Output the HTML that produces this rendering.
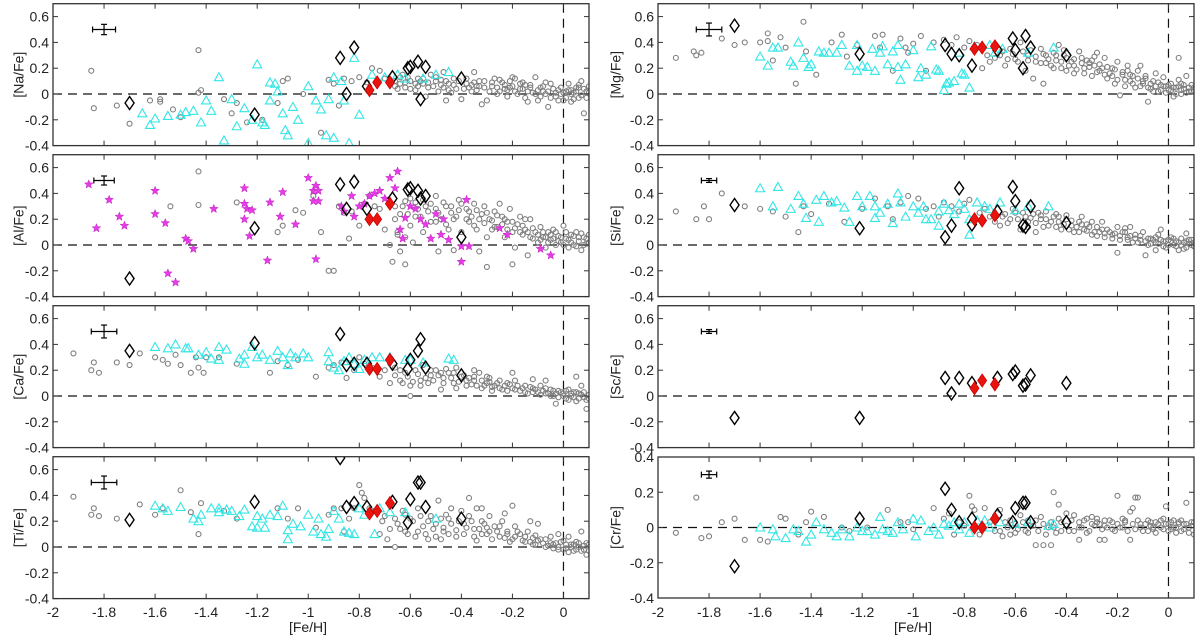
<!DOCTYPE html>
<html><head><meta charset="utf-8"><title>Abundance ratios vs [Fe/H]</title>
<style>
html,body{margin:0;padding:0;background:#fff;}
svg{display:block;font-family:"Liberation Sans",Arial,sans-serif;}
</style></head>
<body>
<svg id="chart" width="1200" height="637" viewBox="0 0 1200 637" xmlns="http://www.w3.org/2000/svg"></svg>
<script>
// ---------- shared data ----------
const xTicks = [-2,-1.8,-1.6,-1.4,-1.2,-1,-0.8,-0.6,-0.4,-0.2,0];
const xTickLabels = ["-2","-1.8","-1.6","-1.4","-1.2","-1","-0.8","-0.6","-0.4","-0.2","0"];
const yTicksStd = [-0.4,-0.2,0,0.2,0.4,0.6];
const yTickLabelsStd = ["-0.4","-0.2","0","0.2","0.4","0.6"];
const yTicksCr = [-0.4,-0.2,0,0.2,0.4];
const yTickLabelsCr = ["-0.4","-0.2","0","0.2","0.4"];
const panelNames = ["[Na/Fe]","[Mg/Fe]","[Al/Fe]","[Si/Fe]","[Ca/Fe]","[Sc/Fe]","[Ti/Fe]","[Cr/Fe]"];

// black diamond program stars [Fe/H]
const dFe = [-1.70,-1.21,-0.875,-0.85,-0.82,-0.77,-0.67,-0.61,-0.60,-0.57,-0.56,-0.54,-0.40];
const dNa = [-0.07,-0.16,0.28,0.00,0.36,0.06,0.13,0.20,0.21,0.25,-0.04,0.21,0.12];
const dMg = [0.53,0.31,0.38,0.31,0.30,0.22,0.34,0.43,0.34,0.20,0.45,0.36,0.30];
const dAl = [-0.26,0.13,0.47,0.28,0.49,0.28,0.36,0.43,0.44,0.42,0.36,0.38,0.06];
const dSi = [0.31,0.13,0.06,0.15,0.44,0.16,0.26,0.45,0.34,0.15,0.14,0.30,0.17];
const dCa = [0.35,0.41,0.48,0.24,0.25,0.25,0.25,0.21,0.28,0.35,0.44,0.22,0.16];
const dSc = [-0.17,-0.17,0.14,0.02,0.14,0.10,0.14,0.17,0.19,0.08,0.09,0.16,0.10];
const dTi = [0.21,0.35,0.69,0.31,0.34,0.31,0.35,0.19,0.37,0.50,0.50,0.31,0.22];
const dCr = [-0.22,0.05,0.22,0.10,0.03,0.05,0.07,0.03,0.11,0.14,0.14,0.03,0.03];

// red diamonds
const rFe = [-0.76,-0.73,-0.68];
const rNa = [0.03,0.09,0.09];
const rMg = [0.35,0.36,0.37];
const rAl = [0.20,0.20,0.32];
const rSi = [0.20,0.19,0.23];
const rCa = [0.21,0.21,0.28];
const rSc = [0.06,0.12,0.09];
const rTi = [0.26,0.28,0.34];
const rCr = [0.00,0.00,0.05];

// error bars [x half, y half]
const errNa=[0.045,0.04], errMg=[0.05,0.05], errAl=[0.04,0.035], errSi=[0.03,0.015],
      errCa=[0.05,0.05], errSc=[0.03,0.015], errTi=[0.05,0.05], errCr=[0.03,0.02];

// field stars (gray circles) [FeH, X/Fe]
const gNa = [[-1.85,0.18],[-1.84,-0.11],[-1.75,-0.09],[-1.7,-0.23],[-1.62,-0.05],[-1.58,-0.04],[-1.58,-0.06],[-1.53,-0.12],[-1.5,-0.18],[-1.43,0.34],[-1.42,0.03],[-1.43,0.01],[-1.33,-0.04],[-1.3,-0.15],[-1.28,-0.07],[-1.24,-0.22],[-1.12,-0.07],[-1.18,-0.2],[-1.1,0.1],[-1.08,0.12],[-1.02,0.0],[-0.95,-0.3],[-0.92,0.11],[-0.9,0.08],[-0.88,-0.09],[-0.86,0.12],[-0.83,0.1],[-0.8,0.13],[-0.77,0.09],[-0.75,0.2],[-0.72,0.18],[-0.7,0.12],[-0.66,0.1],[-0.64,0.08],[-0.62,0.05],[-0.63,0.15],[-0.6,0.1],[-0.58,0.03],[-0.57,0.12],[-0.55,0.08],[-0.53,0.05],[-0.52,0.15],[-0.5,0.1],[-0.49,0.02],[-0.47,0.17],[-0.45,0.08],[-0.43,0.12],[-0.42,0.04],[-0.4,-0.04],[-0.38,0.08],[-0.36,0.02],[-0.35,0.17],[-0.33,0.1],[-0.31,0.05],[-0.3,-0.05],[-0.28,0.06],[-0.27,0.12],[-0.25,0.02],[-0.24,0.09],[-0.22,-0.02],[-0.21,0.05],[-0.19,0.12],[-0.18,0.0],[-0.16,0.04],[-0.15,-0.03],[-0.13,0.07],[-0.12,0.01],[-0.1,-0.05],[-0.09,0.05],[-0.07,0.0],[-0.06,-0.1],[-0.05,0.08],[-0.03,-0.02],[-0.02,0.03],[0.0,-0.05],[0.01,0.02],[0.02,0.08],[0.03,-0.06],[0.04,0.01],[0.05,0.05],[0.06,-0.03],[0.07,0.1],[0.08,-0.15],[0.09,0.02],[0.1,0.06],[-0.11,0.13],[-0.2,0.13],[-0.32,-0.08],[-0.46,-0.05],[-0.54,-0.02],[-0.65,0.04],[-0.68,0.11],[-0.61,0.13],[-0.48,0.11],[-0.37,0.05],[-0.26,0.0],[-0.17,0.08],[-0.08,0.02],[-0.01,0.0],[0.03,0.03],[0.06,0.07],[-0.14,-0.06],[-0.23,0.04],[-0.34,0.06],[-0.44,0.01]];
const gNa2 = [[-0.66,0.06],[-0.64,0.13],[-0.62,0.09],[-0.6,0.04],[-0.58,0.08],[-0.57,0.06],[-0.55,0.12],[-0.53,0.09],[-0.51,0.06],[-0.5,0.13],[-0.48,0.07],[-0.46,0.1],[-0.45,0.03],[-0.43,0.07],[-0.41,0.1],[-0.39,0.04],[-0.38,0.12],[-0.36,0.07],[-0.34,0.03],[-0.33,0.06],[-0.31,0.1],[-0.29,0.02],[-0.28,0.09],[-0.26,0.05],[-0.25,0.11],[-0.23,0.07],[-0.22,0.03],[-0.2,0.06],[-0.19,0.02],[-0.17,0.04],[-0.16,0.09],[-0.14,0.02],[-0.13,0.05],[-0.11,0.0],[-0.1,0.03],[-0.09,-0.02],[-0.08,0.06],[-0.06,0.02],[-0.05,-0.03],[-0.04,0.04],[-0.03,0.01],[-0.02,-0.05],[-0.01,0.05],[0.0,0.01],[0.01,-0.03],[0.02,0.03],[0.03,0.0],[0.04,-0.04],[0.05,0.02],[0.06,0.05],[0.07,-0.01],[0.08,0.04],[0.09,-0.03],[0.1,0.01],[-0.15,0.07],[-0.07,0.09],[-0.21,0.1],[-0.35,0.09],[-0.47,0.05],[-0.56,0.1]];
const gMg = [[-1.93,0.28],[-1.86,0.33],[-1.85,0.3],[-1.83,0.32],[-1.75,0.43],[-1.7,0.38],[-1.66,0.4],[-1.6,0.4],[-1.57,0.47],[-1.57,0.41],[-1.55,0.26],[-1.52,0.44],[-1.5,0.36],[-1.46,0.08],[-1.43,0.56],[-1.42,0.33],[-1.38,0.15],[-1.32,0.4],[-1.28,0.46],[-1.26,0.29],[-1.22,0.38],[-1.15,0.45],[-1.13,0.36],[-1.12,0.46],[-1.08,0.18],[-1.05,0.43],[-1.03,0.36],[-1.02,0.32],[-1.0,0.39],[-0.97,0.45],[-0.95,0.18],[-0.92,0.4],[-0.88,0.42],[-0.85,0.38],[-0.83,0.44],[-0.8,0.36],[-0.78,0.41],[-0.75,0.38],[-0.73,0.2],[-0.71,0.3],[-0.7,0.25],[-0.68,0.28],[-0.66,0.3],[-0.64,0.22],[-0.62,0.35],[-0.6,0.27],[-0.58,0.4],[-0.56,0.18],[-0.55,0.3],[-0.53,0.12],[-0.52,0.25],[-0.5,0.35],[-0.49,0.08],[-0.48,0.3],[-0.46,0.22],[-0.44,0.26],[-0.43,0.38],[-0.41,0.3],[-0.4,0.18],[-0.38,0.25],[-0.37,0.16],[-0.35,0.33],[-0.33,0.2],[-0.32,0.26],[-0.3,0.14],[-0.29,0.22],[-0.27,0.18],[-0.25,0.28],[-0.24,0.12],[-0.22,0.2],[-0.21,0.08],[-0.19,-0.01],[-0.18,0.15],[-0.16,0.22],[-0.15,0.1],[-0.13,0.05],[-0.12,0.18],[-0.1,0.08],[-0.09,0.12],[-0.08,-0.06],[-0.07,0.04],[-0.06,0.1],[-0.04,0.02],[-0.03,0.07],[-0.02,0.13],[0.0,0.03],[0.01,0.08],[0.02,-0.02],[0.03,0.05],[0.04,0.11],[0.05,0.0],[0.06,0.04],[0.07,0.14],[0.08,0.02],[0.09,0.07],[0.1,0.03],[-0.28,0.32],[-0.2,0.25],[-0.11,0.22],[-0.05,0.16],[0.04,0.28],[-0.37,0.22],[-0.34,0.28],[-0.26,0.2],[-0.45,0.32],[-0.42,0.2],[-0.31,0.24],[-0.23,0.16],[-0.17,0.06],[-0.14,0.14],[-0.01,0.06],[0.05,0.08]];
const gMg2 = [[-0.65,0.33],[-0.63,0.27],[-0.61,0.31],[-0.59,0.25],[-0.57,0.33],[-0.55,0.26],[-0.54,0.34],[-0.52,0.29],[-0.5,0.24],[-0.49,0.31],[-0.47,0.27],[-0.45,0.2],[-0.44,0.3],[-0.42,0.25],[-0.4,0.28],[-0.39,0.22],[-0.37,0.27],[-0.36,0.19],[-0.34,0.24],[-0.33,0.16],[-0.31,0.21],[-0.3,0.26],[-0.28,0.17],[-0.27,0.23],[-0.25,0.15],[-0.24,0.21],[-0.22,0.14],[-0.21,0.19],[-0.2,0.11],[-0.18,0.17],[-0.17,0.11],[-0.15,0.15],[-0.14,0.08],[-0.12,0.12],[-0.11,0.06],[-0.1,0.1],[-0.08,0.05],[-0.07,0.08],[-0.06,0.02],[-0.05,0.06],[-0.04,0.09],[-0.03,0.03],[-0.02,0.06],[-0.01,0.01],[0.0,0.07],[0.01,0.03],[0.02,0.05],[0.03,0.0],[0.04,0.06],[0.05,0.03],[0.06,0.07],[0.07,0.01],[0.08,0.05],[0.09,0.02],[0.1,0.05],[-0.48,0.24],[-0.41,0.34],[-0.29,0.29],[-0.16,0.18],[-0.09,0.14]];
const gAl = [[-1.43,0.57],[-1.43,0.31],[-1.54,0.3],[-1.28,0.33],[-1.12,0.1],[-1.1,0.15],[-1.05,0.27],[-1.02,0.25],[-0.98,0.38],[-0.95,0.1],[-0.92,-0.2],[-0.9,-0.2],[-0.88,0.3],[-0.86,0.25],[-0.84,0.05],[-0.83,0.26],[-0.8,0.15],[-0.78,0.32],[-0.76,0.38],[-0.74,0.3],[-0.72,0.28],[-0.7,0.12],[-0.68,0.0],[-0.67,-0.13],[-0.66,0.2],[-0.65,0.08],[-0.64,-0.05],[-0.63,0.3],[-0.62,-0.15],[-0.61,0.24],[-0.6,0.15],[-0.59,0.02],[-0.58,0.33],[-0.56,0.22],[-0.55,0.1],[-0.54,0.3],[-0.52,0.18],[-0.5,0.28],[-0.49,-0.05],[-0.48,0.2],[-0.46,0.3],[-0.45,0.12],[-0.44,0.25],[-0.42,0.22],[-0.41,0.35],[-0.4,0.1],[-0.38,0.28],[-0.37,0.18],[-0.35,0.32],[-0.34,0.12],[-0.32,0.24],[-0.31,0.3],[-0.3,0.06],[-0.29,0.2],[-0.27,0.26],[-0.26,0.14],[-0.24,0.22],[-0.23,0.06],[-0.22,0.18],[-0.21,0.28],[-0.2,0.1],[-0.19,-0.02],[-0.18,0.16],[-0.17,0.22],[-0.16,0.08],[-0.15,0.12],[-0.14,-0.08],[-0.13,0.2],[-0.12,0.05],[-0.11,0.1],[-0.1,0.02],[-0.09,0.14],[-0.08,0.06],[-0.07,-0.02],[-0.06,0.1],[-0.05,0.04],[-0.04,0.12],[-0.03,0.0],[-0.02,0.07],[-0.01,0.02],[0.0,0.15],[0.01,0.05],[0.02,-0.02],[0.03,0.08],[0.04,0.0],[0.05,0.1],[0.06,0.03],[0.07,-0.04],[0.08,0.06],[0.09,0.01],[0.1,0.08],[-0.3,-0.17],[-0.2,-0.15],[-0.43,-0.04],[-0.5,0.38],[-0.36,0.22],[-0.28,0.12],[-0.25,0.32],[-0.15,0.2],[-0.33,-0.05]];
const gAl2 = [[-0.66,0.3],[-0.64,0.24],[-0.62,0.34],[-0.6,0.36],[-0.58,0.22],[-0.57,0.28],[-0.55,0.35],[-0.53,0.26],[-0.52,0.32],[-0.5,0.18],[-0.49,0.25],[-0.47,0.33],[-0.46,0.16],[-0.44,0.3],[-0.43,0.2],[-0.41,0.27],[-0.4,0.32],[-0.38,0.2],[-0.37,0.26],[-0.35,0.15],[-0.34,0.27],[-0.33,0.2],[-0.31,0.17],[-0.3,0.25],[-0.28,0.19],[-0.27,0.14],[-0.26,0.23],[-0.24,0.16],[-0.23,0.2],[-0.22,0.12],[-0.2,0.18],[-0.19,0.13],[-0.17,0.1],[-0.16,0.15],[-0.14,0.1],[-0.13,0.06],[-0.12,0.13],[-0.1,0.08],[-0.09,0.04],[-0.08,0.1],[-0.07,0.06],[-0.06,0.02],[-0.05,0.08],[-0.04,0.05],[-0.03,0.1],[-0.02,0.03],[-0.01,0.06],[0.0,0.0],[0.01,0.1],[0.02,0.04],[0.03,0.02],[0.04,0.07],[0.05,-0.01],[0.06,0.06],[0.07,0.09],[0.08,0.0],[0.09,0.05],[0.1,0.02],[-0.65,0.1],[-0.62,0.06]];
const gSi = [[-1.93,0.26],[-1.85,0.2],[-1.82,0.3],[-1.8,0.2],[-1.75,0.4],[-1.66,0.3],[-1.6,0.28],[-1.55,0.26],[-1.5,0.22],[-1.45,0.1],[-1.43,0.3],[-1.4,0.24],[-1.33,0.32],[-1.27,0.18],[-1.2,0.28],[-1.15,0.36],[-1.1,0.3],[-1.08,0.2],[-1.05,0.33],[-1.02,0.38],[-0.98,0.36],[-0.95,0.28],[-0.92,0.3],[-0.9,0.22],[-0.88,0.33],[-0.85,0.3],[-0.82,0.26],[-0.8,0.32],[-0.78,0.35],[-0.76,0.2],[-0.74,0.25],[-0.72,0.28],[-0.7,0.22],[-0.68,0.18],[-0.66,0.15],[-0.64,0.24],[-0.62,0.2],[-0.6,0.25],[-0.58,0.12],[-0.56,0.22],[-0.55,0.18],[-0.53,0.24],[-0.52,0.1],[-0.5,0.2],[-0.48,0.26],[-0.47,0.15],[-0.45,0.22],[-0.43,0.18],[-0.42,0.12],[-0.4,0.2],[-0.38,0.15],[-0.37,0.1],[-0.35,0.18],[-0.33,0.12],[-0.32,0.16],[-0.3,0.08],[-0.28,0.14],[-0.27,0.1],[-0.25,0.06],[-0.24,0.12],[-0.22,0.08],[-0.2,0.14],[-0.19,0.04],[-0.17,0.1],[-0.16,0.06],[-0.14,0.02],[-0.13,0.08],[-0.11,0.04],[-0.1,0.1],[-0.08,0.0],[-0.07,0.05],[-0.05,0.02],[-0.04,0.08],[-0.02,0.03],[-0.01,-0.02],[0.0,0.04],[0.01,0.06],[0.02,0.0],[0.03,0.03],[0.04,-0.04],[0.05,0.05],[0.06,0.02],[0.07,-0.02],[0.08,0.04],[0.09,0.0],[0.1,0.02],[-0.2,-0.06],[-0.09,-0.08],[-0.03,0.12],[-0.05,-0.04],[0.07,0.09],[-0.15,0.14],[-0.26,0.18],[-0.34,0.22],[-0.44,0.24]];
const gSi2 = [[-0.65,0.22],[-0.63,0.17],[-0.61,0.28],[-0.59,0.2],[-0.57,0.25],[-0.55,0.14],[-0.54,0.21],[-0.52,0.17],[-0.51,0.25],[-0.49,0.14],[-0.48,0.2],[-0.46,0.18],[-0.44,0.14],[-0.43,0.22],[-0.41,0.16],[-0.39,0.12],[-0.38,0.19],[-0.36,0.14],[-0.35,0.1],[-0.34,0.16],[-0.32,0.11],[-0.31,0.14],[-0.29,0.1],[-0.28,0.07],[-0.26,0.12],[-0.25,0.09],[-0.23,0.1],[-0.22,0.05],[-0.21,0.09],[-0.19,0.07],[-0.18,0.1],[-0.16,0.04],[-0.15,0.07],[-0.13,0.05],[-0.12,0.02],[-0.11,0.07],[-0.09,0.03],[-0.08,0.05],[-0.07,0.01],[-0.06,0.04],[-0.05,0.06],[-0.04,0.01],[-0.03,0.04],[-0.02,-0.01],[-0.01,0.03],[0.0,0.0],[0.01,0.03],[0.02,0.05],[0.03,-0.01],[0.04,0.02],[0.05,0.0],[0.06,-0.03],[0.07,0.03],[0.08,0.01],[0.09,0.04],[0.1,-0.01],[-0.5,0.23],[-0.4,0.23],[-0.3,0.18],[-0.17,0.13]];
const gCa = [[-1.92,0.33],[-1.85,0.2],[-1.84,0.26],[-1.82,0.18],[-1.75,0.26],[-1.7,0.24],[-1.66,0.33],[-1.6,0.3],[-1.57,0.28],[-1.55,0.25],[-1.52,0.32],[-1.5,0.24],[-1.46,0.18],[-1.44,0.3],[-1.43,0.22],[-1.41,0.18],[-1.4,0.3],[-1.35,0.3],[-1.28,0.25],[-1.15,0.18],[-1.12,0.27],[-1.08,0.24],[-1.04,0.28],[-0.97,0.15],[-0.92,0.22],[-0.9,0.24],[-0.87,0.26],[-0.85,0.14],[-0.82,0.2],[-0.8,0.3],[-0.78,0.25],[-0.75,0.22],[-0.72,0.15],[-0.7,0.2],[-0.68,0.1],[-0.66,0.22],[-0.64,0.12],[-0.62,0.18],[-0.6,0.08],[-0.58,0.2],[-0.56,0.12],[-0.55,0.24],[-0.53,0.1],[-0.52,0.16],[-0.5,0.2],[-0.48,0.05],[-0.47,0.14],[-0.45,0.18],[-0.43,0.1],[-0.42,0.22],[-0.4,0.15],[-0.38,0.08],[-0.37,0.14],[-0.35,0.12],[-0.33,0.18],[-0.32,0.06],[-0.3,0.1],[-0.29,0.14],[-0.27,0.08],[-0.25,0.12],[-0.24,0.05],[-0.22,0.1],[-0.2,0.06],[-0.19,0.12],[-0.17,0.04],[-0.15,0.08],[-0.14,0.02],[-0.12,0.06],[-0.1,0.03],[-0.09,0.08],[-0.07,0.02],[-0.05,0.05],[-0.04,0.0],[-0.02,0.04],[0.0,0.02],[0.01,-0.02],[0.02,0.05],[0.03,0.0],[0.04,0.03],[0.05,-0.04],[0.06,0.02],[0.07,0.08],[0.08,-0.01],[0.09,-0.1],[0.1,0.01],[-0.03,-0.06],[-0.2,0.18],[-0.35,0.2],[-0.07,0.12],[0.05,0.15],[-0.6,0.0],[-0.12,0.13],[-0.28,0.04]];
const gCa2 = [[-0.66,0.16],[-0.64,0.2],[-0.63,0.1],[-0.61,0.15],[-0.59,0.11],[-0.57,0.17],[-0.56,0.08],[-0.54,0.14],[-0.52,0.2],[-0.51,0.12],[-0.49,0.16],[-0.47,0.1],[-0.46,0.21],[-0.44,0.14],[-0.43,0.18],[-0.41,0.11],[-0.39,0.16],[-0.38,0.12],[-0.36,0.09],[-0.35,0.15],[-0.34,0.08],[-0.32,0.12],[-0.31,0.08],[-0.29,0.11],[-0.28,0.07],[-0.26,0.1],[-0.25,0.06],[-0.23,0.08],[-0.22,0.04],[-0.21,0.09],[-0.19,0.05],[-0.18,0.08],[-0.16,0.06],[-0.15,0.03],[-0.13,0.07],[-0.12,0.03],[-0.11,0.05],[-0.09,0.01],[-0.08,0.04],[-0.07,0.06],[-0.06,0.02],[-0.05,0.0],[-0.04,0.04],[-0.03,0.02],[-0.02,-0.01],[-0.01,0.03],[0.0,0.0],[0.01,0.04],[0.02,-0.03],[0.03,0.02],[0.04,-0.01],[0.05,0.03],[0.06,-0.02],[0.07,0.01],[0.08,0.03],[0.09,-0.03],[0.1,-0.02],[-0.48,0.18],[-0.42,0.06],[-0.3,0.15]];
const gSc = [];
const gTi = [[-1.92,0.39],[-1.85,0.25],[-1.84,0.3],[-1.82,0.24],[-1.75,0.22],[-1.66,0.33],[-1.6,0.25],[-1.57,0.3],[-1.5,0.44],[-1.46,0.27],[-1.43,0.1],[-1.42,0.34],[-1.33,0.28],[-1.28,0.22],[-1.12,0.3],[-1.08,0.22],[-1.04,0.3],[-0.97,0.15],[-0.92,0.25],[-0.9,0.3],[-0.87,0.3],[-0.86,0.12],[-0.84,0.22],[-0.82,0.3],[-0.8,0.48],[-0.79,0.42],[-0.78,0.38],[-0.76,0.3],[-0.74,0.28],[-0.72,0.1],[-0.71,0.2],[-0.7,0.24],[-0.69,0.06],[-0.68,0.14],[-0.66,0.0],[-0.65,0.18],[-0.63,0.28],[-0.62,0.12],[-0.6,0.22],[-0.58,0.08],[-0.57,0.3],[-0.55,0.16],[-0.53,0.06],[-0.52,0.24],[-0.5,0.18],[-0.49,0.36],[-0.47,0.12],[-0.45,0.22],[-0.44,0.3],[-0.42,0.08],[-0.4,0.28],[-0.39,0.18],[-0.37,0.24],[-0.35,0.14],[-0.34,0.3],[-0.32,0.2],[-0.3,0.1],[-0.29,0.24],[-0.27,0.16],[-0.25,0.08],[-0.24,0.2],[-0.22,0.12],[-0.2,0.06],[-0.19,0.16],[-0.17,0.1],[-0.15,0.04],[-0.14,0.12],[-0.12,0.02],[-0.1,0.18],[-0.09,0.06],[-0.07,0.0],[-0.05,0.08],[-0.04,0.02],[-0.02,-0.02],[0.0,0.05],[0.01,-0.01],[0.02,0.08],[0.03,0.02],[0.04,-0.03],[0.05,0.04],[0.06,0.0],[0.07,0.12],[0.08,-0.02],[0.09,-0.06],[0.1,0.02],[-0.2,0.32],[-0.37,0.38],[-0.46,0.25],[-0.11,0.09],[-0.02,0.1],[-0.13,0.2],[-0.23,0.26],[-0.32,0.3],[-0.3,0.15]];
const gTi2 = [[-0.66,0.22],[-0.64,0.14],[-0.62,0.25],[-0.61,0.1],[-0.59,0.2],[-0.57,0.12],[-0.56,0.24],[-0.54,0.1],[-0.53,0.2],[-0.51,0.14],[-0.5,0.08],[-0.48,0.22],[-0.47,0.15],[-0.45,0.1],[-0.44,0.18],[-0.42,0.13],[-0.41,0.2],[-0.39,0.1],[-0.38,0.15],[-0.36,0.2],[-0.35,0.08],[-0.33,0.14],[-0.32,0.1],[-0.31,0.18],[-0.29,0.12],[-0.28,0.06],[-0.26,0.12],[-0.25,0.16],[-0.23,0.07],[-0.22,0.1],[-0.21,0.04],[-0.19,0.08],[-0.18,0.12],[-0.16,0.05],[-0.15,0.08],[-0.13,0.04],[-0.12,0.07],[-0.11,0.02],[-0.1,0.05],[-0.08,0.03],[-0.07,0.06],[-0.06,0.01],[-0.05,0.03],[-0.04,-0.01],[-0.03,0.03],[-0.02,0.0],[-0.01,0.04],[0.0,-0.02],[0.01,0.02],[0.02,-0.04],[0.03,0.0],[0.04,0.02],[0.05,-0.02],[0.06,0.03],[0.07,-0.03],[0.08,0.01],[0.09,0.03],[0.1,-0.03],[-0.48,0.06],[-0.34,0.05]];
const gCr = [[-1.93,-0.03],[-1.85,0.17],[-1.83,-0.06],[-1.8,-0.05],[-1.75,0.03],[-1.7,0.05],[-1.66,-0.07],[-1.6,-0.07],[-1.57,-0.08],[-1.52,0.06],[-1.5,0.05],[-1.45,-0.04],[-1.42,0.03],[-1.4,0.09],[-1.35,0.06],[-1.28,0.0],[-1.25,-0.02],[-1.18,0.0],[-1.1,0.1],[-1.05,0.03],[-1.02,0.03],[-1.0,-0.01],[-0.92,0.11],[-0.88,0.05],[-0.86,0.08],[-0.84,-0.04],[-0.82,0.03],[-0.8,0.01],[-0.78,0.18],[-0.77,0.12],[-0.76,0.1],[-0.74,-0.04],[-0.72,0.11],[-0.7,0.03],[-0.68,-0.02],[-0.66,0.1],[-0.65,-0.05],[-0.63,0.0],[-0.62,0.04],[-0.6,-0.03],[-0.58,0.07],[-0.56,-0.02],[-0.55,0.04],[-0.53,0.01],[-0.52,-0.1],[-0.5,0.06],[-0.49,-0.1],[-0.47,0.0],[-0.46,-0.1],[-0.45,0.2],[-0.43,0.13],[-0.42,0.03],[-0.4,0.08],[-0.39,-0.02],[-0.37,0.07],[-0.35,0.0],[-0.33,0.04],[-0.32,-0.03],[-0.3,0.02],[-0.28,0.05],[-0.27,-0.07],[-0.25,0.01],[-0.23,0.04],[-0.22,-0.01],[-0.2,0.18],[-0.19,0.0],[-0.17,0.04],[-0.15,-0.07],[-0.14,0.11],[-0.13,0.17],[-0.12,0.17],[-0.11,0.02],[-0.1,-0.02],[-0.08,0.04],[-0.06,-0.01],[-0.05,0.03],[-0.03,0.0],[-0.01,0.12],[0.0,0.02],[0.01,-0.01],[0.02,0.04],[0.03,0.0],[0.04,0.03],[0.05,-0.02],[0.06,0.02],[0.07,0.14],[0.08,0.0],[0.09,0.03],[0.1,-0.04],[-0.35,-0.07],[-0.25,-0.07],[-0.15,0.09],[-0.3,0.06],[-0.18,0.05],[-0.07,0.01],[-0.02,0.05]];
const gCr2 = [[-0.66,-0.02],[-0.64,0.03],[-0.62,-0.04],[-0.6,0.02],[-0.59,-0.01],[-0.57,0.03],[-0.55,-0.03],[-0.54,0.01],[-0.52,0.04],[-0.51,-0.02],[-0.49,0.02],[-0.48,-0.04],[-0.46,0.03],[-0.45,0.0],[-0.43,0.05],[-0.42,-0.02],[-0.4,0.01],[-0.38,0.04],[-0.37,-0.02],[-0.35,0.03],[-0.34,0.0],[-0.32,0.05],[-0.31,-0.02],[-0.29,0.01],[-0.28,0.03],[-0.26,-0.01],[-0.25,0.04],[-0.24,0.0],[-0.22,0.03],[-0.21,-0.02],[-0.2,0.02],[-0.18,0.0],[-0.17,0.03],[-0.16,-0.02],[-0.14,0.02],[-0.13,-0.01],[-0.12,0.04],[-0.11,0.0],[-0.09,0.02],[-0.08,-0.02],[-0.07,0.03],[-0.06,0.0],[-0.05,-0.03],[-0.04,0.02],[-0.03,0.04],[-0.02,-0.01],[-0.01,0.02],[0.0,-0.02],[0.01,0.03],[0.02,0.0],[0.03,-0.03],[0.04,0.02],[0.05,0.04],[0.06,-0.01],[0.07,0.02],[0.08,-0.03],[0.09,0.01],[0.1,0.03],[-0.44,-0.03],[-0.27,0.02]];

// cyan triangles [FeH, X/Fe]
const tNa = [[-1.65,-0.15],[-1.62,-0.24],[-1.6,-0.19],[-1.55,-0.17],[-1.5,-0.16],[-1.48,-0.14],[-1.45,-0.13],[-1.42,-0.22],[-1.4,-0.05],[-1.38,-0.13],[-1.35,0.13],[-1.33,-0.36],[-1.3,-0.04],[-1.28,-0.25],[-1.25,-0.11],[-1.22,-0.2],[-1.2,0.23],[-1.18,-0.22],[-1.17,-0.24],[-1.15,0.09],[-1.15,-0.05],[-1.12,0.02],[-1.1,-0.15],[-1.09,-0.28],[-1.08,-0.32],[-1.06,-0.1],[-1.04,-0.2],[-1.0,0.06],[-1.0,-0.38],[-0.97,-0.05],[-0.95,-0.12],[-0.93,-0.32],[-0.9,-0.34],[-0.9,0.13],[-0.87,0.1],[-0.86,-0.05],[-0.84,-0.38],[-0.82,0.28],[-0.8,-0.16],[-0.75,0.15],[-0.7,0.13],[-0.65,0.15],[-0.62,0.12],[-0.55,0.12],[-0.5,0.15],[-0.45,0.17],[-1.13,0.08],[-0.92,-0.04]];
const tMg = [[-1.6,0.29],[-1.57,0.22],[-1.55,0.36],[-1.53,0.36],[-1.48,0.25],[-1.47,0.22],[-1.45,0.4],[-1.43,0.28],[-1.41,0.21],[-1.4,0.23],[-1.37,0.33],[-1.35,0.32],[-1.33,0.32],[-1.3,0.32],[-1.28,0.38],[-1.25,0.22],[-1.22,0.18],[-1.2,0.22],[-1.18,0.21],[-1.16,0.35],[-1.15,0.18],[-1.12,0.37],[-1.1,0.23],[-1.08,0.33],[-1.06,0.21],[-1.05,0.11],[-1.03,0.23],[-1.0,0.34],[-0.98,0.13],[-0.97,0.2],[-0.95,0.15],[-0.93,0.37],[-0.91,0.19],[-0.9,0.18],[-0.88,0.03],[-0.87,0.08],[-0.86,0.09],[-0.84,0.1],[-0.82,0.32],[-0.81,0.16],[-0.8,0.15],[-0.78,0.05],[-0.76,0.37],[-0.7,0.38],[-0.68,0.32],[-0.65,0.35],[-0.55,0.32],[-0.45,0.36],[-1.22,0.38],[-1.13,0.32],[-1.06,0.38]];
const tSi = [[-1.6,0.44],[-1.53,0.45],[-1.55,0.3],[-1.48,0.28],[-1.45,0.38],[-1.43,0.32],[-1.42,0.21],[-1.38,0.35],[-1.37,0.18],[-1.35,0.38],[-1.32,0.33],[-1.3,0.34],[-1.27,0.29],[-1.25,0.18],[-1.22,0.38],[-1.2,0.3],[-1.17,0.38],[-1.15,0.21],[-1.13,0.25],[-1.1,0.32],[-1.08,0.17],[-1.06,0.4],[-1.05,0.33],[-1.03,0.22],[-1.0,0.3],[-0.98,0.25],[-0.96,0.3],[-0.95,0.2],[-0.93,0.2],[-0.9,0.26],[-0.88,0.32],[-0.86,0.27],[-0.84,0.24],[-0.82,0.32],[-0.8,0.28],[-0.78,0.2],[-0.75,0.33],[-0.72,0.3],[-0.7,0.28],[-0.66,0.33],[-0.6,0.27],[-0.55,0.3],[-0.47,0.3],[-0.9,0.15],[-0.78,0.08],[-1.15,0.3]];
const tCa = [[-1.6,0.38],[-1.55,0.37],[-1.52,0.4],[-1.48,0.37],[-1.47,0.37],[-1.43,0.32],[-1.4,0.34],[-1.38,0.29],[-1.35,0.38],[-1.32,0.36],[-1.27,0.29],[-1.25,0.32],[-1.22,0.38],[-1.2,0.3],[-1.18,0.32],[-1.15,0.28],[-1.12,0.35],[-1.1,0.3],[-1.08,0.24],[-1.07,0.33],[-1.05,0.3],[-1.02,0.33],[-1.0,0.3],[-0.92,0.34],[-0.92,0.27],[-0.9,0.22],[-0.88,0.2],[-0.86,0.27],[-0.84,0.3],[-0.82,0.25],[-0.8,0.21],[-0.78,0.28],[-0.75,0.3],[-0.72,0.3],[-0.68,0.3],[-0.62,0.28],[-0.6,0.28],[-0.55,0.26],[-0.45,0.29],[-0.43,0.28],[-1.25,0.25],[-1.35,0.28]];
const tTi = [[-1.6,0.32],[-1.57,0.3],[-1.55,0.28],[-1.5,0.31],[-1.45,0.22],[-1.43,0.2],[-1.42,0.25],[-1.38,0.3],[-1.35,0.3],[-1.32,0.29],[-1.3,0.28],[-1.27,0.24],[-1.25,0.29],[-1.22,0.16],[-1.2,0.15],[-1.2,0.24],[-1.17,0.15],[-1.15,0.25],[-1.12,0.24],[-1.1,0.32],[-1.08,0.13],[-1.08,0.06],[-1.06,0.18],[-1.03,0.16],[-1.0,0.25],[-0.98,0.12],[-0.96,0.22],[-0.95,0.1],[-0.93,0.08],[-0.92,0.14],[-0.9,0.28],[-0.88,0.22],[-0.86,0.12],[-0.84,0.11],[-0.82,0.1],[-0.8,0.3],[-0.78,0.25],[-0.74,0.1],[-0.72,0.3],[-0.68,0.27],[-0.62,0.27],[-0.5,0.22],[-1.35,0.27],[-1.18,0.22]];
const tCr = [[-1.6,0.0],[-1.55,-0.01],[-1.54,-0.05],[-1.5,-0.06],[-1.47,-0.01],[-1.45,-0.02],[-1.42,-0.08],[-1.4,-0.04],[-1.38,0.03],[-1.35,-0.01],[-1.32,-0.03],[-1.3,-0.05],[-1.28,-0.01],[-1.25,-0.05],[-1.22,0.0],[-1.2,-0.02],[-1.18,-0.02],[-1.15,-0.04],[-1.13,0.06],[-1.12,-0.01],[-1.1,-0.02],[-1.08,-0.03],[-1.06,0.03],[-1.04,-0.01],[-1.0,0.05],[-0.99,-0.05],[-0.97,0.04],[-0.94,-0.02],[-0.92,0.0],[-0.9,-0.04],[-0.88,0.02],[-0.86,0.01],[-0.84,0.03],[-0.82,-0.01],[-0.8,0.03],[-0.78,-0.03],[-0.75,0.04],[-0.72,0.04],[-0.7,0.0],[-0.66,0.03],[-0.6,0.02],[-0.55,0.03],[-0.47,0.01],[-0.45,0.02]];

// magenta stars (Al panel)
const sAl = [[-1.86,0.47],[-1.83,0.13],[-1.78,0.35],[-1.74,0.22],[-1.72,0.15],[-1.6,0.42],[-1.6,0.24],[-1.56,0.17],[-1.55,-0.22],[-1.52,-0.29],[-1.48,0.05],[-1.47,0.03],[-1.45,-0.03],[-1.37,0.28],[-1.25,0.32],[-1.25,0.44],[-1.25,0.2],[-1.24,0.28],[-1.22,0.27],[-1.23,0.07],[-1.16,-0.12],[-1.15,0.33],[-1.11,0.22],[-1.1,0.41],[-1.05,0.16],[-1.0,0.52],[-0.98,0.42],[-0.98,0.34],[-0.97,0.46],[-0.96,0.42],[-0.96,0.34],[-0.97,-0.11],[-0.87,0.3],[-0.86,0.26],[-0.83,0.38],[-0.82,0.22],[-0.8,0.3],[-0.78,0.32],[-0.76,0.38],[-0.74,0.4],[-0.72,0.42],[-0.7,0.36],[-0.68,0.52],[-0.66,0.44],[-0.65,0.57],[-0.64,0.12],[-0.63,0.05],[-0.62,0.21],[-0.6,0.3],[-0.58,0.28],[-0.56,0.2],[-0.54,0.16],[-0.52,0.05],[-0.5,0.24],[-0.48,0.08],[-0.47,0.2],[-0.45,0.04],[-0.4,-0.01],[-0.4,-0.13],[-0.38,0.35],[-0.37,-0.01],[-0.25,0.13],[-0.22,0.08],[-0.09,-0.03],[-0.05,-0.08]];

// ---------- drawing ----------
const NS = "http://www.w3.org/2000/svg";
const svg = document.getElementById("chart");
function mk(tag, attrs, parent){
  const e = document.createElementNS(NS, tag);
  for (const k in attrs) e.setAttribute(k, attrs[k]);
  (parent || svg).appendChild(e);
  return e;
}
const cols = [{x0:53,x1:589,xlabelX:308,ylabX:20},{x0:658,x1:1194,xlabelX:913,ylabX:617}];
const rowZero = [94,245,396,547];
const panels = [
  {name:"na",label:panelNames[0],col:0,row:0,g:gNa.concat(gNa2),t:tNa,s:null,d:dNa,r:rNa,err:errNa},
  {name:"mg",label:panelNames[1],col:1,row:0,g:gMg.concat(gMg2),t:tMg,s:null,d:dMg,r:rMg,err:errMg},
  {name:"al",label:panelNames[2],col:0,row:1,g:gAl.concat(gAl2),t:[],s:sAl,d:dAl,r:rAl,err:errAl},
  {name:"si",label:panelNames[3],col:1,row:1,g:gSi.concat(gSi2),t:tSi,s:null,d:dSi,r:rSi,err:errSi},
  {name:"ca",label:panelNames[4],col:0,row:2,g:gCa.concat(gCa2),t:tCa,s:null,d:dCa,r:rCa,err:errCa},
  {name:"sc",label:panelNames[5],col:1,row:2,g:gSc,t:[],s:null,d:dSc,r:rSc,err:errSc},
  {name:"ti",label:panelNames[6],col:0,row:3,g:gTi.concat(gTi2),t:tTi,s:null,d:dTi,r:rTi,err:errTi},
  {name:"cr",label:panelNames[7],col:1,row:3,g:gCr.concat(gCr2),t:tCr,s:null,d:dCr,r:rCr,err:errCr,cr:true}
];

panels.forEach(p => {
  const c = cols[p.col];
  const pxPerX = (c.x1 - c.x0) / 2.1;
  const X = v => c.x0 + (v + 2) * pxPerX;
  let Y, top, bot, ticks, tlabels;
  if (p.cr) {
    top = 457; bot = 598;
    Y = v => 527.5 - v * 176.25;
    ticks = yTicksCr; tlabels = yTickLabelsCr;
  } else {
    const z = rowZero[p.row];
    top = z - 0.7 * 129; bot = z + 0.4 * 129;
    Y = v => z - v * 129;
    ticks = yTicksStd; tlabels = yTickLabelsStd;
  }
  const g = mk("g", {});
  
  
  const clipId = "clip-" + p.name;
  const cp = mk("clipPath", {id: clipId}, g);
  mk("rect", {x:c.x0, y:top, width:c.x1-c.x0, height:bot-top}, cp);

  const hz = mk("line", {x1:c.x0, x2:c.x1, y1:Y(0), y2:Y(0), stroke:"#111", "stroke-width":1.2, "stroke-dasharray":"9,6"}, g);
  
  
  const vt = mk("line", {x1:X(0), x2:X(0), y1:top, y2:bot, stroke:"#111", "stroke-width":1.2, "stroke-dasharray":"9,6"}, g);
  
  

  const marks = mk("g", {"clip-path":"url(#" + clipId + ")"}, g);
  
  

  p.g.forEach(pt => {
    const e = mk("circle", {cx:X(pt[0]), cy:Y(pt[1]), r:2.5, fill:"none", stroke:"#7e7e7e", "stroke-width":1.1}, marks);
    
    
  });
  p.t.forEach(pt => {
    const x = X(pt[0]), y = Y(pt[1]);
    const e = mk("polygon", {points:`${x},${y-4.5} ${x-4.5},${y+3.5} ${x+4.5},${y+3.5}`, fill:"none", stroke:"#33e6e6", "stroke-width":1.1}, marks);
    
    
  });
  if (p.s) p.s.forEach(pt => {
    const x = X(pt[0]), y = Y(pt[1]);
    let pts = [];
    for (let i = 0; i < 10; i++) {
      const a = -Math.PI/2 + i * Math.PI/5, rr = i % 2 ? 1.9 : 4.5;
      pts.push((x + rr*Math.cos(a)).toFixed(1) + "," + (y + rr*Math.sin(a)).toFixed(1));
    }
    const e = mk("polygon", {points:pts.join(" "), fill:"#e63ce6", stroke:"#c020c0", "stroke-width":0.5}, marks);
    
    
  });
  dFe.forEach((fe, i) => {
    const x = X(fe), y = Y(p.d[i]);
    const e = mk("polygon", {points:`${x},${y-6.5} ${x+4.5},${y} ${x},${y+6.5} ${x-4.5},${y}`, fill:"none", stroke:"#000", "stroke-width":1.4}, marks);
    
    
  });
  rFe.forEach((fe, i) => {
    const x = X(fe), y = Y(p.r[i]);
    const e = mk("polygon", {points:`${x},${y-6.5} ${x+4.5},${y} ${x},${y+6.5} ${x-4.5},${y}`, fill:"#e8140f", stroke:"#c00", "stroke-width":0.8}, marks);
    
    
  });

  const ex = X(-1.8), ey = Y(p.cr ? 0.3 : 0.5);
  const ew = p.err[0] * pxPerX, eh = p.err[1] * (p.cr ? 176.25 : 129);
  const eb = mk("g", {stroke:"#000", "stroke-width":1.2}, g);
  
  
  mk("line", {x1:ex-ew, x2:ex+ew, y1:ey, y2:ey}, eb);
  mk("line", {x1:ex-ew, x2:ex-ew, y1:ey-3, y2:ey+3}, eb);
  mk("line", {x1:ex+ew, x2:ex+ew, y1:ey-3, y2:ey+3}, eb);
  mk("line", {x1:ex, x2:ex, y1:ey-eh, y2:ey+eh}, eb);
  mk("line", {x1:ex-3, x2:ex+3, y1:ey-eh, y2:ey-eh}, eb);
  mk("line", {x1:ex-3, x2:ex+3, y1:ey+eh, y2:ey+eh}, eb);

  const fr = mk("rect", {x:c.x0, y:top, width:c.x1-c.x0, height:bot-top, fill:"none", stroke:"#333", "stroke-width":1.3}, g);
  
  

  xTicks.forEach((v, i) => {
    mk("line", {x1:X(v), x2:X(v), y1:bot, y2:bot-5, stroke:"#333", "stroke-width":1}, g);
    mk("line", {x1:X(v), x2:X(v), y1:top, y2:top+5, stroke:"#333", "stroke-width":1}, g);
    if (p.row === 3) {
      const t = mk("text", {x:X(v), y:617, "text-anchor":"middle", "font-size":14, fill:"#222"}, g);
      t.textContent = xTickLabels[i];
      
      
    }
  });
  ticks.forEach((v, i) => {
    mk("line", {x1:c.x0, x2:c.x0+5, y1:Y(v), y2:Y(v), stroke:"#333", "stroke-width":1}, g);
    mk("line", {x1:c.x1, x2:c.x1-5, y1:Y(v), y2:Y(v), stroke:"#333", "stroke-width":1}, g);
    const t = mk("text", {x:c.x0-4, y:Y(v)+5, "text-anchor":"end", "font-size":14, fill:"#222"}, g);
    t.textContent = tlabels[i];
    
    
  });
  const cy = (top + bot) / 2;
  const yl = mk("text", {x:c.ylabX, y:cy, "text-anchor":"middle", "font-size":14, fill:"#222", transform:`rotate(-90 ${c.ylabX} ${cy})`, "dominant-baseline":"middle"}, g);
  yl.textContent = p.label;
  
  
  if (p.row === 3) {
    const xl = mk("text", {x:c.xlabelX, y:632, "text-anchor":"middle", "font-size":14, fill:"#222"}, g);
    xl.textContent = "[Fe/H]";
    
    
  }
});
</script>
</body></html>
